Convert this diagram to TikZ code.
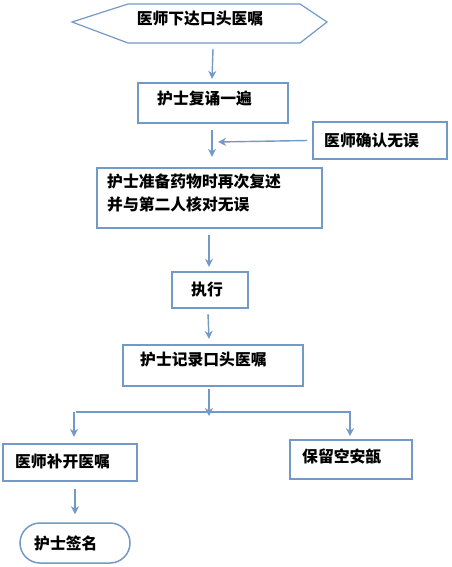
\documentclass[tikz,border=0pt]{standalone}
\usepackage{fontspec}
\newfontfamily\cjk{Noto Sans CJK SC}
\usetikzlibrary{arrows.meta}
\definecolor{edge}{RGB}{115,153,198}
\tikzset{
  box/.style={draw=edge,line width=2.2pt,rectangle,inner sep=0pt},
  txt/.style={font=\cjk\bfseries\fontsize{15.8}{23}\selectfont,inner sep=0pt,text=black},
  conn/.style={draw=edge,line width=1.4pt},
  arr/.style={conn,-{Stealth[length=8pt,width=8pt,inset=2.5pt]}},
}
\begin{document}
\begin{tikzpicture}[x=1pt,y=-1pt]
\useasboundingbox[fill=white] (0,0) rectangle (451,567);
% hexagon
\draw[edge,line width=1.2pt] (72,22) -- (128,4) -- (300,4) -- (327,22) -- (300,43) -- (128,43) -- cycle;
\coordinate (hexs) at (213,49);
\node[txt] (t0) at (200,19) {医师下达口头医嘱};
% boxes
\node[box,minimum width=150pt,minimum height=40pt] (b1) at (213,103) {};
\node[txt,anchor=west] (t1) at (157,99) {护士复诵一遍};
\node[box,line width=1.6pt,minimum width=134pt,minimum height=37pt] (bc) at (380,140.5) {};
\node[txt,anchor=west] (tc) at (324,141) {医师确认无误};
\node[box,minimum width=225pt,minimum height=60pt] (b3) at (209.5,198) {};
\node[txt,anchor=north west,align=left] (t3) at (107,174) {护士准备药物时再次复述\\并与第二人核对无误};
\node[box,minimum width=76pt,minimum height=36pt] (b4) at (210,290) {};
\node[txt] (t4) at (207,290) {执行};
\node[box,minimum width=180pt,minimum height=41pt] (b5) at (213,365.5) {};
\node[txt,anchor=west] (t5) at (140,360) {护士记录口头医嘱};
\node[box,minimum width=134pt,minimum height=37pt] (b6) at (70,462.5) {};
\node[txt,anchor=west] (t6) at (15,461) {医师补开医嘱};
\node[box,line width=1.6pt,minimum width=122pt,minimum height=39pt] (b7) at (351,459.5) {};
\node[txt,anchor=west] (t7) at (302,456) {保留空安瓿};
\node[draw=edge,line width=1.5pt,rounded corners=20pt,minimum width=110pt,minimum height=40pt,inner sep=0pt] (b8) at (75,543) {};
\node[txt,anchor=west] (t8) at (34,543) {护士签名};
% connectors
\draw[arr] (hexs) -- ([xshift=-1pt,yshift=3pt]b1.north);
\draw[arr] ([xshift=-1pt,yshift=-6pt]b1.south) -- ([xshift=2.5pt,yshift=10pt]b3.north);
\draw[arr] ([xshift=-5pt]bc.west) -- (218,142);
\draw[arr] ([xshift=-0.5pt,yshift=-6pt]b3.south) -- ([xshift=-1pt,yshift=4pt]b4.north);
\draw[arr] ([xshift=-2pt,yshift=-5pt]b4.south) -- ([xshift=-4pt,yshift=5pt]b5.north);
\coordinate (split) at (209,412);
\draw[arr] ([xshift=-4pt,yshift=-2pt]b5.south) -- ([yshift=-4pt]split);
\draw[conn,line width=1.1pt] (76,412) -- (351,412);
\draw[arr] (74,412) -- ([xshift=4pt,yshift=6pt]b6.north);
\draw[arr] (350,412) -- ([xshift=-1pt,yshift=3pt]b7.north);
\draw[arr] ([xshift=5pt,yshift=-7pt]b6.south) -- ([yshift=8pt]b8.north);
\end{tikzpicture}
\end{document}
